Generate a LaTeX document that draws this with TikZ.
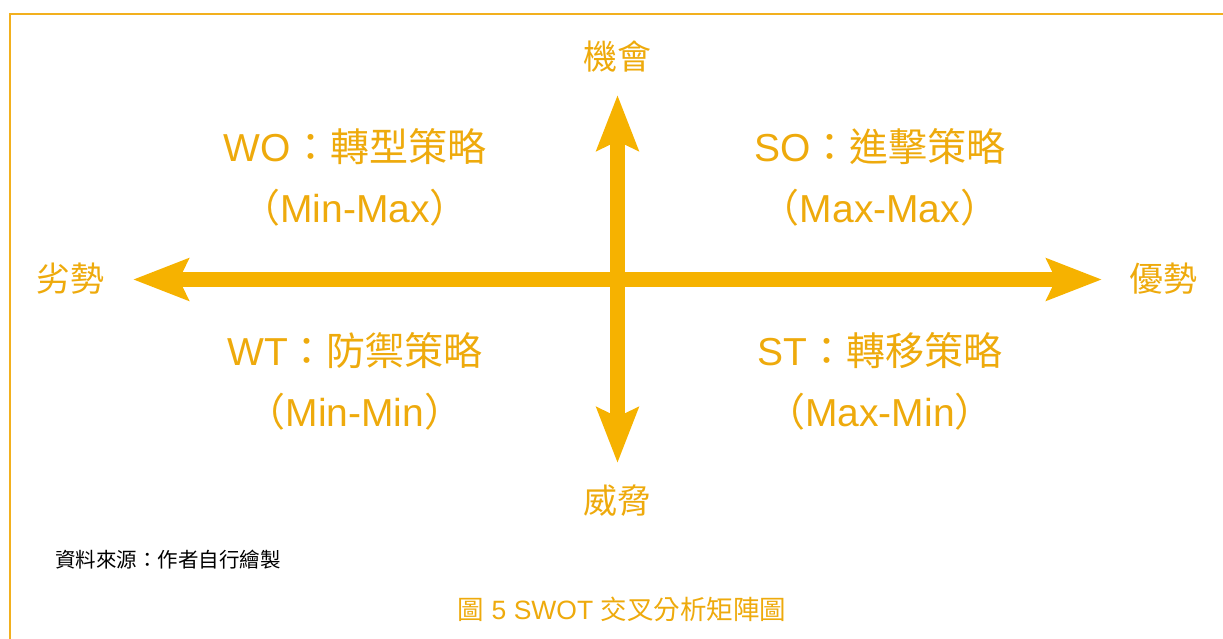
\documentclass[tikz,border=0pt]{standalone}
\usepackage{fontspec}
\setmainfont{Liberation Sans}
\newfontfamily\cjk{Noto Sans CJK TC}
\usetikzlibrary{arrows.meta}
\definecolor{axis}{HTML}{F6B200}
\definecolor{lab}{HTML}{EEAA0C}
\definecolor{frame}{HTML}{F2B01E}
\tikzset{
  axisarrow/.style={draw=axis, line width=15pt,
    {Stealth[length=55pt,width=41pt,inset=9pt]}-{Stealth[length=55pt,width=41pt,inset=9pt]}},
  quad/.style={text=lab, font=\fontsize{39}{61}\selectfont, align=center, inner sep=0pt},
  side/.style={text=lab, font=\cjk\fontsize{34}{40}\selectfont, inner sep=0pt},
}
\begin{document}
\begin{tikzpicture}[x=1pt,y=-1pt]
\useasboundingbox (0,0) rectangle (1223,639);
\draw[frame, line width=2.4pt] (10,639) -- (10,14) -- (1223,14);
\coordinate (L) at (133,279.5);
\coordinate (R) at (1102,279.5);
\coordinate (T) at (617.5,95);
\coordinate (B) at (617.5,463);
\draw[axisarrow] (L) -- (R);
\draw[axisarrow] (B) -- (T);
\node[side] (opp) at (617,56.5) {機會};
\node[side] (thr) at (617,500.5) {威脅};
\node[side] (weak) at (70,279) {劣勢};
\node[side] (str) at (1163,279) {優勢};
\node[quad] (wo) at (355,177) {WO{\cjk ：轉型策略}\\{\cjk （}Min-Max{\cjk ）}};
\node[quad] (so) at (880,177) {SO{\cjk ：進擊策略}\\{\cjk （}Max-Max{\cjk ）}};
\node[quad] (wt) at (355,381) {WT{\cjk ：防禦策略}\\{\cjk （}Min-Min{\cjk ）}};
\node[quad] (st) at (880,381) {ST{\cjk ：轉移策略}\\{\cjk （}Max-Min{\cjk ）}};
\node[anchor=west, inner sep=0pt, font=\cjk\fontsize{20.5}{24}\selectfont] (src) at (55,560) {資料來源：作者自行繪製};
\node[inner sep=0pt, text=lab, font=\fontsize{26.5}{30}\selectfont] (cap) at (622,609) {{\cjk 圖} 5 SWOT {\cjk 交叉分析矩陣圖}};
\end{tikzpicture}
\end{document}
